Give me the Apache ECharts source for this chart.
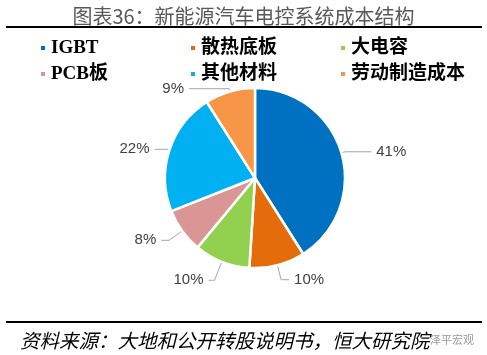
<!DOCTYPE html>
<html><head><meta charset="utf-8">
<script src="https://cdn.jsdelivr.net/npm/echarts@6/dist/echarts.min.js"></script>
<style>html,body{margin:0;padding:0;background:#fff}#c{width:487px;height:355px}</style>
</head><body><div id="c"></div>
<script>
const categories = ['IGBT', '散热底板', '大电容', 'PCB板', '其他材料', '劳动制造成本'];
const values = [41, 10, 10, 8, 22, 9];
const titleText = '图表36：新能源汽车电控系统成本结构';
const sourceText = '资料来源：大地和公开转股说明书，恒大研究院';

const colors = ['#0070C0', '#E46C0A', '#92D050', '#D99694', '#00B0F0', '#F79646'];
// label-line [length, length2] per slice (layout only)
const lineLens = [[4, 26], [15, 8], [20, 6], [16, 8], [3, 12], [3, 40]];

const chart = echarts.init(document.getElementById('c'), null, {renderer: 'canvas'});
const legendFont = {fontSize: 19, fontWeight: 'bold', color: '#000', fontFamily: "'Liberation Serif', 'Noto Sans CJK SC', serif", lineHeight: 20};
function legendCol(left, names) {
  return {orient: 'vertical', left: left, top: 33, itemWidth: 6, itemHeight: 6, itemGap: 6, itemTextGap: 9, icon: 'rect', selectedMode: false, data: names, textStyle: legendFont};
}
chart.setOption({
  animation: false,
  color: colors,
  title: {text: titleText, left: 'center', top: 1, textStyle: {fontSize: 20, fontWeight: 'normal', color: '#595959', fontFamily: "'Noto Sans CJK SC', sans-serif"}},
  legend: [
    legendCol(34, [categories[0], categories[3]]),
    legendCol(184, [categories[1], categories[4]]),
    legendCol(334, [categories[2], categories[5]])
  ],
  graphic: [
    {type: 'line', shape: {x1: 6, y1: 27, x2: 482, y2: 27}, style: {stroke: '#000', lineWidth: 2}},
    {type: 'line', shape: {x1: 6, y1: 322, x2: 482, y2: 322}, style: {stroke: '#000', lineWidth: 2}},
    {type: 'text', left: 20, top: 331, style: {text: sourceText, fontSize: 19.5, fontStyle: 'italic', fill: '#000', fontFamily: "'Noto Sans CJK SC', sans-serif"}},
    {type: 'text', left: 430, top: 334, style: {text: '泽平宏观', fontSize: 11, fill: '#999', fontFamily: "'Noto Sans CJK SC', sans-serif"}}
  ],
  series: [{
    type: 'pie',
    center: [255, 178],
    radius: 90,
    startAngle: 90,
    clockwise: true,
    data: categories.map((n, i) => ({name: n, value: values[i], labelLine: {length: lineLens[i][0], length2: lineLens[i][1]}})),
    itemStyle: {borderColor: '#fff', borderWidth: 2.5},
    label: {formatter: '{c}%', fontSize: 15, color: '#404040', fontFamily: "'Liberation Sans', sans-serif"},
    labelLine: {lineStyle: {color: '#A6A6A6', width: 1}}
  }]
});
</script></body></html>
